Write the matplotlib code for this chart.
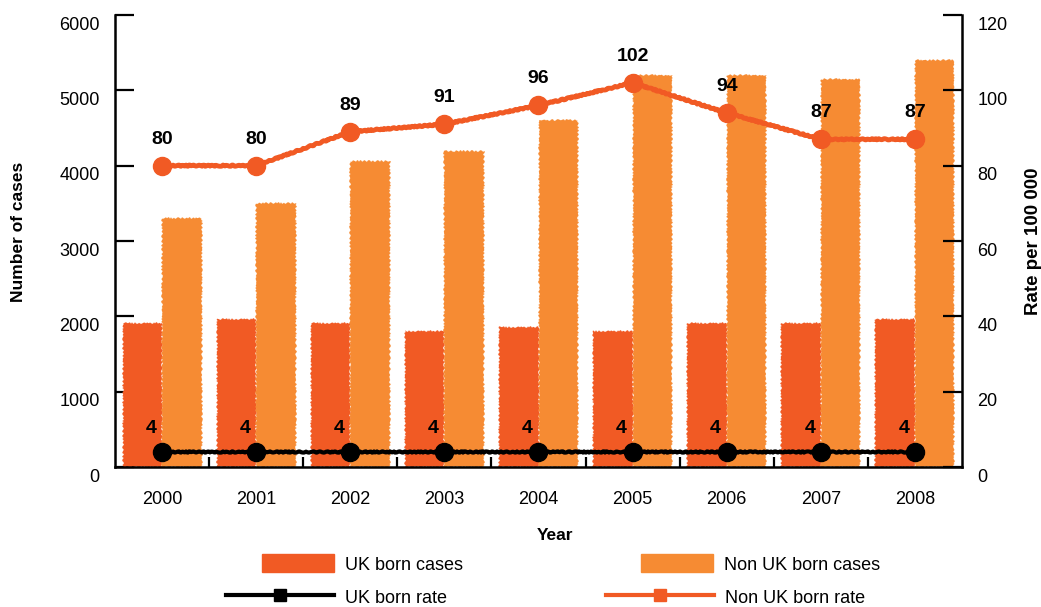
import matplotlib
matplotlib.use('Agg')
import matplotlib.pyplot as plt
import matplotlib.transforms as mtransforms
from matplotlib.patches import Patch
from matplotlib.lines import Line2D
import numpy as np

plt.rcParams['font.family'] = ['Liberation Sans', 'DejaVu Sans']

years = ['2000', '2001', '2002', '2003', '2004', '2005', '2006', '2007', '2008']
uk_cases = [1910, 1965, 1910, 1805, 1860, 1805, 1910, 1910, 1965]
non_uk_cases = [3305, 3505, 4060, 4195, 4605, 5205, 5205, 5150, 5405]
uk_rate = [4, 4, 4, 4, 4, 4, 4, 4, 4]
non_uk_rate = [80, 80, 89, 91, 96, 102, 94, 87, 87]

uk_col = '#f15a24'
non_uk_col = '#f68b33'

W, H = 1041, 607
fig = plt.figure(figsize=(W / 100, H / 100), dpi=100)
ax = fig.add_axes([115 / W, 1 - 467 / H, (962 - 115) / W, (467 - 15) / H])

x = np.arange(len(years))
w = 0.42
b1 = ax.bar(x - 0.21, uk_cases, w, color=uk_col, zorder=2)
b2 = ax.bar(x + 0.21, non_uk_cases, w, color=non_uk_col, zorder=2)
for b in list(b1) + list(b2):
    b.set_sketch_params(0.8, 5, 3)  # rough hand-painted edges

ax.set_xlim(-0.5, 8.5)
ax.set_ylim(0, 6000)
ax.set_yticks(range(0, 6001, 1000))
ax.tick_params(axis='y', direction='in', length=14, width=1.6, pad=11, labelsize=13)
ax.set_xticks(x)
ax.set_xticklabels(years)
ax.set_xticks(x[:-1] + 0.5, minor=True)
ax.tick_params(axis='x', which='major', length=0, pad=17, labelsize=13)
ax.tick_params(axis='x', which='minor', direction='in', length=7, width=1.6)
for s in ['top', 'right']:
    ax.spines[s].set_visible(False)
for s in ['left', 'bottom']:
    ax.spines[s].set_linewidth(1.8)

ax2 = ax.twinx()
ax2.set_ylim(0, 120)
ax2.set_yticks(range(0, 121, 20))
ax2.tick_params(axis='y', direction='in', length=14, width=1.6, pad=11, labelsize=13)
for s in ['top', 'left', 'bottom']:
    ax2.spines[s].set_visible(False)
ax2.spines['right'].set_linewidth(1.8)

l1, = ax2.plot(x, non_uk_rate, color=uk_col, lw=3.5, marker='o', ms=13, zorder=3)
l2, = ax2.plot(x, uk_rate, color='black', lw=3, marker='o', ms=13, zorder=3)
l1.set_sketch_params(0.6, 6, 3)
l2.set_sketch_params(0.6, 6, 3)

for xi, v in zip(x, non_uk_rate):
    ax2.annotate(str(v), (xi, v), xytext=(0, 13), textcoords='offset points',
                 ha='center', va='bottom', fontsize=14, fontweight='bold')
for xi, v in zip(x, uk_rate):
    ax2.annotate(str(v), (xi, v), xytext=(-8, 11), textcoords='offset points',
                 ha='center', va='bottom', fontsize=14, fontweight='bold')

# tick labels sit a little below their ticks in the original
shift = mtransforms.ScaledTranslation(0, -0.08, fig.dpi_scale_trans)
for lab in ax.get_yticklabels() + ax2.get_yticklabels():
    lab.set_transform(lab.get_transform() + shift)

fig.text(19 / W, 1 - 232 / H, 'Number of cases', rotation=90, ha='center', va='center',
         fontsize=12.5, fontweight='bold')
fig.text(1034 / W, 1 - 241 / H, 'Rate per 100 000', rotation=90, ha='center', va='center',
         fontsize=13.5, fontweight='bold')
fig.text(555 / W, 1 - 535 / H, 'Year', ha='center', va='center', fontsize=12.5, fontweight='bold')

# legend entries placed one by one
entries = [
    (Patch(color=uk_col), 'UK born cases', 262, 564, 4.0),
    (Patch(color=non_uk_col), 'Non UK born cases', 641, 564, 4.0),
    (Line2D([], [], color='black', lw=3, marker='s', ms=8), 'UK born rate', 226, 597, 6.0),
    (Line2D([], [], color=uk_col, lw=3, marker='s', ms=8), 'Non UK born rate', 606, 597, 6.0),
]
for h, lab, lx, ly, hl in entries:
    fig.legend([h], [lab], loc='center left', bbox_to_anchor=(lx / W, 1 - ly / H),
               frameon=False, fontsize=13, handlelength=hl, handleheight=1.15,
               handletextpad=0.6, borderpad=0, borderaxespad=0)

fig.savefig('out.png', dpi=100)
